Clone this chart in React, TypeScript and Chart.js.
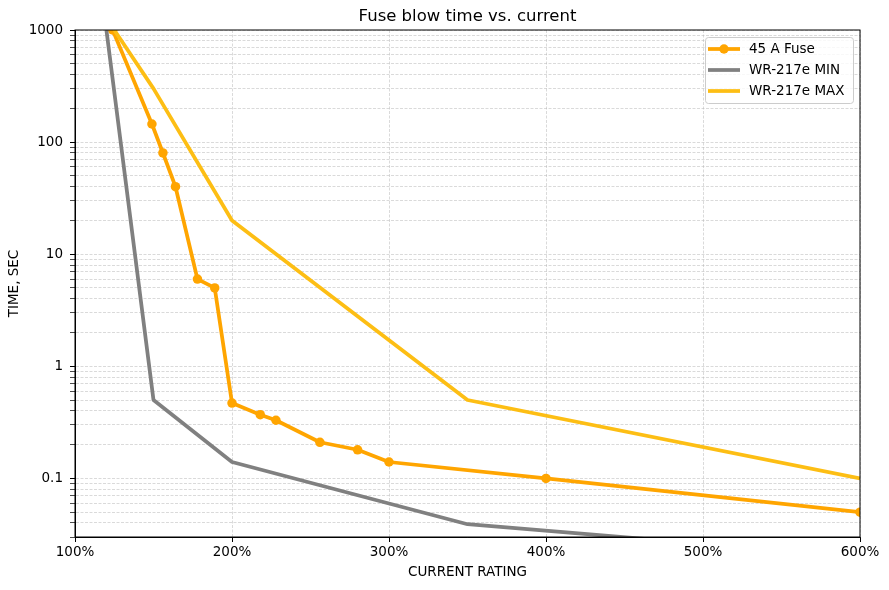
import { useEffect, useRef } from 'react';
import { Chart, registerables } from 'chart.js';
import type { Plugin } from 'chart.js';

Chart.register(...registerables);

// Current as % of rating, blow time in seconds
const FUSE_X = [124, 149, 156, 164, 178, 189, 200, 218, 228, 256, 280, 300, 400, 600];
const FUSE_Y = [1000, 145, 80, 40, 6, 5, 0.47, 0.37, 0.33, 0.21, 0.18, 0.14, 0.1, 0.05];

const MIN_X = [120, 150, 200, 350, 600];
const MIN_Y = [1000, 0.5, 0.14, 0.039, 0.02];

const MAX_X = [125, 150, 200, 350, 600];
const MAX_Y = [1000, 300, 20, 0.5, 0.1];

const Y_MAJOR = [0.1, 1, 10, 100, 1000];
const Y_MIN = 0.03;
const Y_MAX = 1000;
const X_TICK_STEP = 100;

const FONT = '"DejaVu Sans", sans-serif';
const FS = 13.5;
const GRID = 'rgba(176, 176, 176, 0.6)';
const LW = 3.75;

const toPoints = (xs: number[], ys: number[]) => xs.map((x, i) => ({ x, y: ys[i] }));

const isDecade = (v: number) => Math.abs(Math.log10(v) - Math.round(Math.log10(v))) < 1e-9;

// log ticks: every mantissa 1..9 within the axis range
function logTicks() {
  const out: number[] = [];
  for (let e = -2; e <= 3; e++) {
    for (let m = 1; m <= 9; m++) {
      const v = parseFloat((m * Math.pow(10, e)).toPrecision(6));
      if (v >= Y_MIN - 1e-12 && v <= Y_MAX + 1e-9) out.push(v);
    }
  }
  return out;
}

// title, closed frame and in-plot legend (matplotlib look)
const decor: Plugin = {
  id: 'decor',
  afterDatasetsDraw(chart) {
    const { ctx, chartArea: a } = chart;
    ctx.save();
    ctx.setLineDash([]);
    ctx.strokeStyle = '#000';
    ctx.lineWidth = 1;
    ctx.strokeRect(a.left, a.top, a.right - a.left, a.bottom - a.top);

    ctx.fillStyle = '#000';
    ctx.font = `16.5px ${FONT}`;
    ctx.textAlign = 'center';
    ctx.textBaseline = 'middle';
    ctx.fillText('Fuse blow time vs. current', (a.left + a.right) / 2, 17);

    // legend
    const bx = 705.5, by = 37.5, bw = 148, bh = 66;
    ctx.beginPath();
    ctx.roundRect(bx, by, bw, bh, 3);
    ctx.fillStyle = 'rgba(255,255,255,0.8)';
    ctx.fill();
    ctx.strokeStyle = '#cccccc';
    ctx.stroke();

    ctx.font = `${FS}px ${FONT}`;
    ctx.textAlign = 'left';
    chart.data.datasets.forEach((ds: any, i) => {
      const cy = 49 + i * 21;
      ctx.strokeStyle = ds.borderColor;
      ctx.lineWidth = ds.borderWidth;
      ctx.beginPath();
      ctx.moveTo(708, cy);
      ctx.lineTo(740, cy);
      ctx.stroke();
      if (ds.pointRadius > 0) {
        ctx.fillStyle = ds.borderColor;
        ctx.beginPath();
        ctx.arc(724, cy, ds.pointRadius, 0, Math.PI * 2);
        ctx.fill();
      }
      ctx.fillStyle = '#000';
      ctx.fillText(ds.label, 749, cy + 0.5);
    });
    ctx.restore();
  },
};

export default function App() {
  const canvasRef = useRef<HTMLCanvasElement>(null);

  useEffect(() => {
    if (!canvasRef.current) return;

    const chart = new Chart(canvasRef.current, {
      type: 'line',
      data: {
        datasets: [
          {
            label: '45 A Fuse',
            data: toPoints(FUSE_X, FUSE_Y),
            borderColor: '#FFA500',
            backgroundColor: '#FFA500',
            borderWidth: LW,
            pointRadius: 4.75,
            pointBorderWidth: 0,
            pointHoverRadius: 4.75,
            tension: 0,
            clip: 0,
            order: 3,
            borderJoinStyle: 'round',
          },
          {
            label: 'WR-217e MIN',
            data: toPoints(MIN_X, MIN_Y),
            borderColor: '#808080',
            backgroundColor: '#808080',
            borderWidth: LW,
            pointRadius: 0,
            tension: 0,
            clip: 0,
            order: 2,
            borderJoinStyle: 'round',
          },
          {
            label: 'WR-217e MAX',
            data: toPoints(MAX_X, MAX_Y),
            borderColor: '#FDBE14',
            backgroundColor: '#FDBE14',
            borderWidth: LW,
            pointRadius: 0,
            tension: 0,
            clip: 0,
            order: 1,
            borderJoinStyle: 'round',
          },
        ],
      },
      options: {
        responsive: true,
        maintainAspectRatio: false,
        animation: false,
        layout: { padding: { top: 30, right: 29, left: 0, bottom: 0 } },
        plugins: {
          legend: { display: false },
          title: { display: false },
          tooltip: { enabled: false },
        },
        scales: {
          x: {
            type: 'linear',
            min: 100,
            max: 600,
            afterFit: (scale) => {
              scale.height = 53;
            },
            border: { display: true, color: '#000', width: 1, dash: [3, 1.5] },
            grid: {
              color: GRID,
              lineWidth: 0.8,
              tickColor: '#000',
              tickLength: 5,
              tickWidth: 1,
              tickBorderDash: [1, 0],
            },
            ticks: {
              stepSize: X_TICK_STEP,
              color: '#000',
              padding: 2.5,
              font: { family: FONT, size: FS },
              callback: (v) => `${v}%`,
              maxRotation: 0,
            },
            title: {
              display: true,
              text: 'CURRENT RATING',
              color: '#000',
              font: { family: FONT, size: FS },
              padding: { top: 0, bottom: 9.5 },
            },
          },
          y: {
            type: 'logarithmic',
            min: Y_MIN,
            max: Y_MAX,
            afterFit: (scale) => {
              scale.width = 75;
            },
            afterBuildTicks: (scale) => {
              scale.ticks = logTicks().map((value) => ({ value, major: isDecade(value) }));
            },
            border: { display: true, color: '#000', width: 1, dash: [3, 1.5] },
            grid: {
              color: GRID,
              lineWidth: 0.8,
              tickColor: '#000',
              tickLength: 5,
              tickWidth: (ctx: any) => (ctx.tick && isDecade(ctx.tick.value) ? 1 : 0.7),
              tickBorderDash: [1, 0],
            },
            ticks: {
              autoSkip: false,
              color: '#000',
              padding: 7,
              font: { family: FONT, size: FS },
              callback: (v) => {
                const n = Number(v);
                return Y_MAJOR.some((m) => Math.abs(m - n) < 1e-9) ? String(n) : '';
              },
            },
            title: {
              display: true,
              text: 'TIME, SEC',
              color: '#000',
              font: { family: FONT, size: FS },
              padding: { top: 6.5, bottom: 0 },
            },
          },
        },
      },
      plugins: [decor],
    });

    return () => {
      chart.destroy();
    };
  }, []);

  return (
    <div style={{ position: 'fixed', left: 0, top: 0, width: 889, height: 590, background: '#fff' }}>
      <canvas ref={canvasRef} />
    </div>
  );
}
